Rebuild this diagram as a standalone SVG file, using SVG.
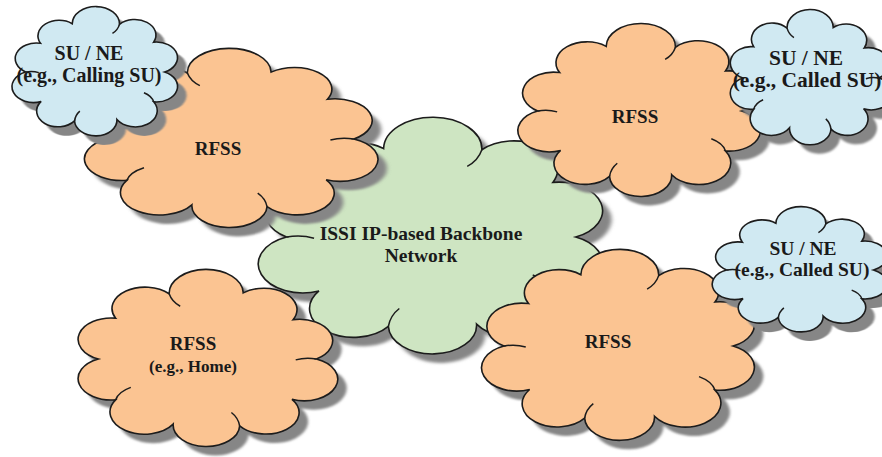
<svg xmlns="http://www.w3.org/2000/svg" width="882" height="457" viewBox="0 0 882 457">
<style>
  .sh { fill: #868686; filter: url(#soft); }
  .rfss { fill: #FBC492; }
  .su { fill: #D0E9F2; }
  .bb { fill: #CEE5C2; }
  .edge { stroke: #1c1c1c; stroke-width: 1.6; }
  .hint { fill: none; stroke: #1c1c1c; stroke-width: 1.5; }
  text { font-family: "Liberation Serif", "Times New Roman", serif; font-weight: bold; fill: #1a1a1a; text-anchor: middle; }
</style>
<defs>
  <filter id="soft" x="-10%" y="-10%" width="120%" height="120%">
    <feGaussianBlur stdDeviation="1.2"/>
  </filter>
  <path id="cloud" vector-effect="non-scaling-stroke" d="M 78 0 A 24 24 0 0 1 65.5 45.9 A 24 24 0 0 1 23.8 73.2 A 24 24 0 0 1 -24.4 75.1 A 24 24 0 0 1 -62.3 45.3 A 24 24 0 0 1 -80 0 A 24 24 0 0 1 -63.1 -44.2 A 24 24 0 0 1 -27 -74.3 A 24 24 0 0 1 26.7 -73.3 A 24 24 0 0 1 65.5 -45.9 A 24 24 0 0 1 78 0 Z"/>
  <path id="hints" vector-effect="non-scaling-stroke" d="M 65.5 45.9 q -2 -9 -11 -14 M -24.4 75.1 q 1 -9 6 -15 M -80 0 q 8 -2 15 1 M 26.7 -73.3 q -2 9 -8 14"/>
</defs>

<g id="backbone">
  <use href="#cloud" class="sh" transform="translate(442,246) scale(1.83,1.19)"/>
  <use href="#cloud" class="bb edge" transform="translate(433,237) scale(1.83,1.19)"/>
  <use href="#hints" class="hint" transform="translate(433,237) scale(1.83,1.19)"/>
  <text x="421" y="240" font-size="19.5">ISSI IP-based Backbone</text>
  <text x="421" y="262" font-size="19.5">Network</text>
</g>

<g id="rfss-top-left">
  <use href="#cloud" class="sh" transform="translate(238,148) scale(-1.56,0.9)"/>
  <use href="#cloud" class="rfss edge" transform="translate(229,139) scale(-1.56,0.9)"/>
  <use href="#hints" class="hint" transform="translate(229,139) scale(-1.56,0.9)"/>
  <text x="218" y="155" font-size="19">RFSS</text>
</g>

<g id="su-calling">
  <use href="#cloud" class="sh" transform="translate(105,81) scale(0.88,0.65)"/>
  <use href="#cloud" class="su edge" transform="translate(96,72) scale(0.88,0.65)"/>
  <use href="#hints" class="hint" transform="translate(96,72) scale(0.88,0.65)"/>
  <text x="89" y="60" font-size="20">SU / NE</text>
  <text x="89" y="82" font-size="20">(e.g., Calling SU)</text>
</g>

<g id="rfss-top-right">
  <use href="#cloud" class="sh" transform="translate(650,120) scale(1.29,0.87)"/>
  <use href="#cloud" class="rfss edge" transform="translate(641,111) scale(1.29,0.87)"/>
  <use href="#hints" class="hint" transform="translate(641,111) scale(1.29,0.87)"/>
  <text x="635" y="123" font-size="19">RFSS</text>
</g>

<g id="su-called-top">
  <use href="#cloud" class="sh" transform="translate(819,87) scale(-0.86,0.68)"/>
  <use href="#cloud" class="su edge" transform="translate(810,78) scale(-0.86,0.68)"/>
  <use href="#hints" class="hint" transform="translate(810,78) scale(-0.86,0.68)"/>
  <text x="806" y="65" font-size="21.5">SU / NE</text>
  <text x="807" y="87" font-size="21.5">(e.g., Called SU)</text>
</g>

<g id="rfss-home">
  <use href="#cloud" class="sh" transform="translate(215,368) scale(-1.38,0.89)"/>
  <use href="#cloud" class="rfss edge" transform="translate(206,359) scale(-1.38,0.89)"/>
  <use href="#hints" class="hint" transform="translate(206,359) scale(-1.38,0.89)"/>
  <text x="193" y="350" font-size="19">RFSS</text>
  <text x="193" y="372" font-size="17">(e.g., Home)</text>
</g>

<g id="rfss-bottom-right">
  <use href="#cloud" class="sh" transform="translate(629,355) scale(1.45,0.96)"/>
  <use href="#cloud" class="rfss edge" transform="translate(620,346) scale(1.45,0.96)"/>
  <use href="#hints" class="hint" transform="translate(620,346) scale(1.45,0.96)"/>
  <text x="608" y="348" font-size="19">RFSS</text>
</g>

<g id="su-called-bottom">
  <use href="#cloud" class="sh" transform="translate(810,279) scale(0.93,0.63)"/>
  <use href="#cloud" class="su edge" transform="translate(801,270) scale(0.93,0.63)"/>
  <use href="#hints" class="hint" transform="translate(801,270) scale(0.93,0.63)"/>
  <text x="803" y="255" font-size="19.5">SU / NE</text>
  <text x="802" y="276" font-size="19.5">(e.g., Called SU)</text>
</g>

<g id="connectors"></g>
</svg>
